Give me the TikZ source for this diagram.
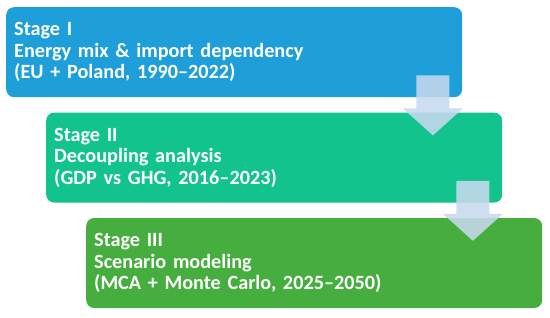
\documentclass[tikz,border=0pt]{standalone}
\usepackage{fontspec}
\setmainfont{Carlito}
\usepackage{xcolor}
\usepackage{tikz}
\usetikzlibrary{positioning,calc}
\definecolor{stageblue}{HTML}{1E9FDA}
\definecolor{stageteal}{HTML}{12C38D}
\definecolor{stagegreen}{HTML}{46AE3E}
\definecolor{arrowpale}{HTML}{C6D9EE}

\begin{document}
\begin{tikzpicture}[
  x=1bp,y=1bp,
  font=\fontsize{20.3}{21.5}\selectfont\bfseries,
  stagebox/.style={rounded corners=8bp,align=left,text width=440bp,minimum width=456bp,
    minimum height=90bp,inner xsep=8bp,inner ysep=0pt,text=white,anchor=north west},
  downarr/.style={fill=arrowpale,fill opacity=0.88}
]
\useasboundingbox (0,0) rectangle (550,317);
\node[stagebox,fill=stageblue] (s1) at (6,310) {Stage I\\Energy mix \& import dependency\\(EU + Poland, 1990--2022)};
\node[stagebox,fill=stageteal] (s2) at ([xshift=40bp,yshift=-15bp]s1.south west) {Stage II\\Decoupling analysis\\(GDP vs GHG, 2016--2023)};
\node[stagebox,fill=stagegreen] (s3) at ([xshift=40bp,yshift=-15bp]s2.south west) {Stage III\\Scenario modeling\\(MCA + Monte Carlo, 2025--2050)};
% block arrows between the stages
\fill[downarr] ([shift={(-46bp,22bp)}]s1.south east) -- ++(33,0) -- ++(0,-33) -- ++(13.5,0)
  -- ++(-30,-27) -- ++(-30,27) -- ++(13.5,0) -- cycle;
\fill[downarr] ([shift={(-46bp,22bp)}]s2.south east) -- ++(33,0) -- ++(0,-33) -- ++(13.5,0)
  -- ++(-30,-27) -- ++(-30,27) -- ++(13.5,0) -- cycle;
\end{tikzpicture}
\end{document}
